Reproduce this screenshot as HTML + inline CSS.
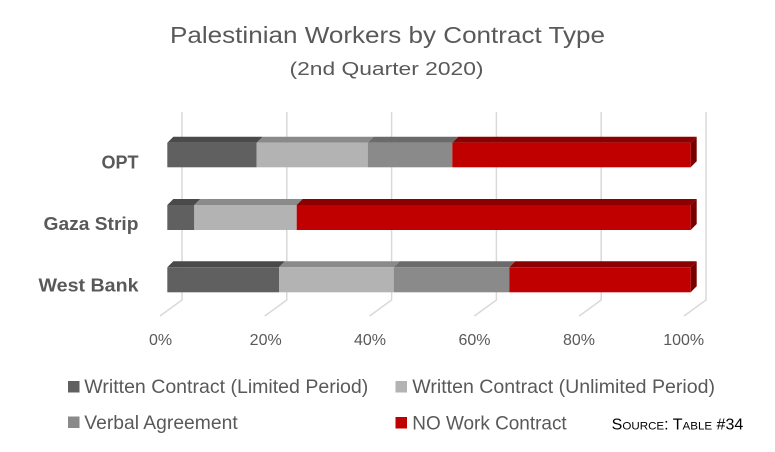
<!DOCTYPE html>
<html>
<head>
<meta charset="utf-8">
<style>
  html, body { margin: 0; padding: 0; background: #ffffff; }
  svg { display: block; }
  text { font-family: "Liberation Sans", sans-serif; }
</style>
</head>
<body>
<svg width="775" height="452" viewBox="0 0 775 452" xmlns="http://www.w3.org/2000/svg">
  <rect x="0" y="0" width="775" height="452" fill="#ffffff"/>

  <!-- Title -->
  <text x="170" y="43" font-size="23" fill="#595959" textLength="435" lengthAdjust="spacingAndGlyphs">Palestinian Workers by Contract Type</text>
  <text x="289.5" y="75" font-size="18.5" fill="#595959" textLength="194" lengthAdjust="spacingAndGlyphs">(2nd Quarter 2020)</text>

  <!-- Gridlines (back wall + floor diagonals) -->
  <g stroke="#d9d9d9" stroke-width="1.5" fill="none">
    <polyline points="182,112 182,300 160,316"/>
    <polyline points="286.8,112 286.8,300 264.8,316"/>
    <polyline points="391.6,112 391.6,300 369.6,316"/>
    <polyline points="496.4,112 496.4,300 474.4,316"/>
    <polyline points="601.2,112 601.2,300 579.2,316"/>
    <polyline points="706,112 706,300 684,316"/>
  </g>

  <!-- OPT bar: front 142.7 - 167.3 -->
  <g>
    <polygon points="167.3,142.7 173.3,136.7 262.7,136.7 256.7,142.7" fill="#4a4a4a"/>
    <polygon points="256.7,142.7 262.7,136.7 373.7,136.7 367.7,142.7" fill="#8a8a8a"/>
    <polygon points="367.7,142.7 373.7,136.7 458.3,136.7 452.3,142.7" fill="#6b6b6b"/>
    <polygon points="452.3,142.7 458.3,136.7 696.7,136.7 690.7,142.7" fill="#8b0000"/>
    <polygon points="690.7,142.7 696.7,136.7 696.7,161.3 690.7,167.3" fill="#780000"/>
    <rect x="167.3" y="142.7" width="89.4" height="24.6" fill="#606060"/>
    <rect x="256.7" y="142.7" width="111" height="24.6" fill="#b3b3b3"/>
    <rect x="367.7" y="142.7" width="84.6" height="24.6" fill="#8a8a8a"/>
    <rect x="452.3" y="142.7" width="238.4" height="24.6" fill="#c00000"/>
  </g>

  <!-- Gaza Strip bar: front 205 - 230 -->
  <g>
    <polygon points="167.3,205 173.3,199 200.3,199 194.3,205" fill="#4a4a4a"/>
    <polygon points="194.3,205 200.3,199 302.7,199 296.7,205" fill="#8a8a8a"/>
    <polygon points="296.7,205 302.7,199 696.7,199 690.7,205" fill="#8b0000"/>
    <polygon points="690.7,205 696.7,199 696.7,224 690.7,230" fill="#780000"/>
    <rect x="167.3" y="205" width="27" height="25" fill="#606060"/>
    <rect x="194.3" y="205" width="102.4" height="25" fill="#b3b3b3"/>
    <rect x="296.7" y="205" width="394" height="25" fill="#c00000"/>
  </g>

  <!-- West Bank bar: front 267.3 - 292.3 -->
  <g>
    <polygon points="167.3,267.3 173.3,261.3 285,261.3 279,267.3" fill="#4a4a4a"/>
    <polygon points="279,267.3 285,261.3 399.7,261.3 393.7,267.3" fill="#8a8a8a"/>
    <polygon points="393.7,267.3 399.7,261.3 515.3,261.3 509.3,267.3" fill="#6b6b6b"/>
    <polygon points="509.3,267.3 515.3,261.3 696.7,261.3 690.7,267.3" fill="#8b0000"/>
    <polygon points="690.7,267.3 696.7,261.3 696.7,286.3 690.7,292.3" fill="#780000"/>
    <rect x="167.3" y="267.3" width="111.7" height="25" fill="#606060"/>
    <rect x="279" y="267.3" width="114.7" height="25" fill="#b3b3b3"/>
    <rect x="393.7" y="267.3" width="115.6" height="25" fill="#8a8a8a"/>
    <rect x="509.3" y="267.3" width="181.4" height="25" fill="#c00000"/>
  </g>

  <!-- Category labels -->
  <g font-weight="bold" font-size="18.5" fill="#595959" text-anchor="end">
    <text x="138.5" y="168.3" textLength="37" lengthAdjust="spacingAndGlyphs">OPT</text>
    <text x="138.5" y="230" textLength="95" lengthAdjust="spacingAndGlyphs">Gaza Strip</text>
    <text x="138.5" y="291.7" textLength="100" lengthAdjust="spacingAndGlyphs">West Bank</text>
  </g>

  <!-- Axis tick labels -->
  <g font-size="16" fill="#595959" text-anchor="middle">
    <text x="160.5" y="345">0%</text>
    <text x="265.7" y="345">20%</text>
    <text x="370" y="345">40%</text>
    <text x="474.5" y="345">60%</text>
    <text x="579" y="345">80%</text>
    <text x="683.7" y="345">100%</text>
  </g>

  <!-- Legend -->
  <rect x="68" y="381" width="11.5" height="11.5" fill="#606060"/>
  <text x="84.3" y="393" font-size="19.5" fill="#595959" textLength="284" lengthAdjust="spacingAndGlyphs">Written Contract (Limited Period)</text>

  <rect x="395.5" y="381" width="11.5" height="11.5" fill="#b3b3b3"/>
  <text x="412.3" y="393" font-size="19.5" fill="#595959" textLength="302.7" lengthAdjust="spacingAndGlyphs">Written Contract (Unlimited Period)</text>

  <rect x="68" y="416.5" width="11.5" height="11.5" fill="#8a8a8a"/>
  <text x="84.3" y="429" font-size="19.5" fill="#595959" textLength="153.4" lengthAdjust="spacingAndGlyphs">Verbal Agreement</text>

  <rect x="395.5" y="417" width="11.5" height="11.5" fill="#c00000"/>
  <text x="412.3" y="429.3" font-size="19.5" fill="#595959" textLength="154.4" lengthAdjust="spacingAndGlyphs">NO Work Contract</text>

  <!-- Source (small caps) -->
  <text x="611.7" y="429.3" fill="#000000" textLength="131.6" lengthAdjust="spacingAndGlyphs"><tspan font-size="15.5">S</tspan><tspan font-size="11.2">OURCE</tspan><tspan font-size="15.5">: T</tspan><tspan font-size="11.2">ABLE</tspan><tspan font-size="15.5"> #34</tspan></text>
</svg>
</body>
</html>
